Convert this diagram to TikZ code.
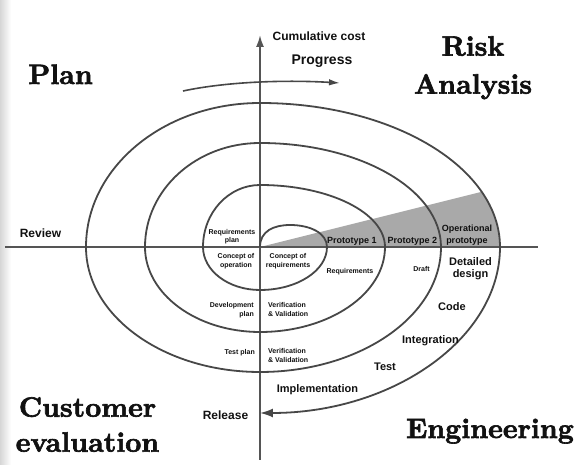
\documentclass[tikz,border=0pt]{standalone}
\usepackage{fontspec}
\setsansfont{Liberation Sans}
\newfontfamily\titlefont{lmroman10-bold.otf}[FakeBold=2.2]
\usetikzlibrary{arrows.meta}
\definecolor{linegray}{HTML}{474747}
\definecolor{axisgray}{HTML}{555555}
\definecolor{wedgegray}{HTML}{A9A9A9}
\definecolor{txt}{HTML}{111111}
\begin{document}
\begin{tikzpicture}[x=1pt,y=1pt,
  spiral/.style={draw=linegray, line width=1.8pt},
  axisline/.style={draw=axisgray, line width=1.9pt},
  big/.style={font=\titlefont\fontsize{28}{35}\selectfont, inner sep=0pt, align=center, text=txt},
  lab/.style={font=\sffamily\bfseries\fontsize{11}{12.5}\selectfont, inner sep=0pt, align=center, text=txt},
  midlab/.style={font=\sffamily\bfseries\fontsize{9}{12}\selectfont, inner sep=0pt, align=center, text=txt},
  small/.style={font=\sffamily\bfseries\fontsize{7}{8.5}\selectfont, inner sep=0pt, align=center, text=txt}
]
\useasboundingbox (-260,-218) rectangle (314,247);
\fill[white] (-260,-218) rectangle (314,247);
\shade[left color=black!16, right color=white] (-260,-218) rectangle (-249,247);

% named coordinates
\coordinate (O) at (0,0);
\coordinate (ybot) at (0,-213);
\coordinate (ytop) at (0,212);
\coordinate (xleft) at (-255,0);
\coordinate (xright) at (278,0);
\coordinate (pstart) at (-77,156);
\coordinate (pend) at (80,164);

% grey wedge
\begin{scope}
  \clip (O) -- (240,0) arc[start angle=0, end angle=90, x radius=240, y radius=144] -- cycle;
  \fill[wedgegray] (O) -- (260,0) -- (260,64.7) -- cycle;
\end{scope}

% axes
\draw[axisline] (xleft) -- (xright);
\draw[axisline, -{Latex[length=12pt,width=8pt]}] (ybot) -- (ytop);

% progress arrow
\draw[spiral, line width=1.6pt, -{Latex[length=11pt,width=6.5pt]}] (pstart) .. controls (-30,166) and (30,167) .. (pend);

% spiral
\draw[spiral, -{Latex[length=13pt,width=9pt]}] (O) .. controls (0,16) and (14,22) .. (30,22) .. controls (50,22) and (67,14) .. (67,0)
 arc[start angle=0, end angle=-90, x radius=67, y radius=43]
 arc[start angle=-90, end angle=-180, x radius=57, y radius=43]
 arc[start angle=180, end angle=90, x radius=57, y radius=62]
 arc[start angle=90, end angle=0, x radius=125, y radius=62]
 arc[start angle=0, end angle=-90, x radius=125, y radius=85]
 arc[start angle=-90, end angle=-180, x radius=115, y radius=85]
 arc[start angle=180, end angle=90, x radius=115, y radius=104]
 arc[start angle=90, end angle=0, x radius=181, y radius=104]
 arc[start angle=0, end angle=-90, x radius=181, y radius=125]
 arc[start angle=-90, end angle=-180, x radius=174, y radius=125]
 arc[start angle=180, end angle=90, x radius=174, y radius=144]
 arc[start angle=90, end angle=0, x radius=240, y radius=144]
 arc[start angle=0, end angle=-90, x radius=240, y radius=166];

% quadrant titles
\node[big, anchor=base] (plan) at (-199.5,163) {Plan};
\node[big, anchor=north, font=\titlefont\fontsize{28}{38}\selectfont] (risk) at (213,211) {Risk\\Analysis};
\node[big, anchor=north] (cust) at (-172.5,-150) {Customer\\evaluation};
\node[big, anchor=base] (eng) at (230,-191) {Engineering};

% axis labels
\node[lab, font=\sffamily\bfseries\fontsize{12}{14}\selectfont, anchor=base] (cum) at (59,206) {Cumulative cost};
\node[lab, font=\sffamily\bfseries\fontsize{14}{16}\selectfont, anchor=base] (prog) at (62,182) {Progress};
\node[lab, font=\sffamily\bfseries\fontsize{12}{14}\selectfont] (review) at (-219.5,14) {Review};
\node[lab, font=\sffamily\bfseries\fontsize{12}{14}\selectfont] (release) at (-34.5,-168) {Release};

% engineering steps
\node[lab, anchor=north] (detail) at (210.5,-10) {Detailed\\design};
\node[lab, anchor=base] (code) at (192,-64) {Code};
\node[lab, anchor=base] (integ) at (170.5,-97) {Integration};
\node[lab, anchor=base] (test) at (125,-124) {Test};
\node[lab, anchor=base] (impl) at (57.5,-146) {Implementation};

% prototypes
\node[midlab, anchor=base] (p1) at (92,3.5) {Prototype 1};
\node[midlab, anchor=base] (p2) at (152.5,3.5) {Prototype 2};
\node[midlab, anchor=north] (op) at (207,22.5) {Operational\\prototype};

% small labels
\node[small] (draft) at (161.5,-22) {Draft};
\node[small] (req) at (90,-25) {Requirements};
\node[small, anchor=north] (reqplan) at (-28,18) {Requirements\\plan};
\node[small, anchor=north] (conop) at (-24,-6.5) {Concept of\\operation};
\node[small, anchor=north] (conreq) at (28,-6.5) {Concept of\\requirements};
\node[small, anchor=north east, align=right] (devplan) at (-6,-55.5) {Development\\plan};
\node[small, anchor=north west, align=left] (vv1) at (8,-55.5) {Verification\\\& Validation};
\node[small, anchor=east] (testplan) at (-5,-106) {Test plan};
\node[small, anchor=north west, align=left] (vv2) at (8,-101.5) {Verification\\\& Validation};
\end{tikzpicture}
\end{document}
